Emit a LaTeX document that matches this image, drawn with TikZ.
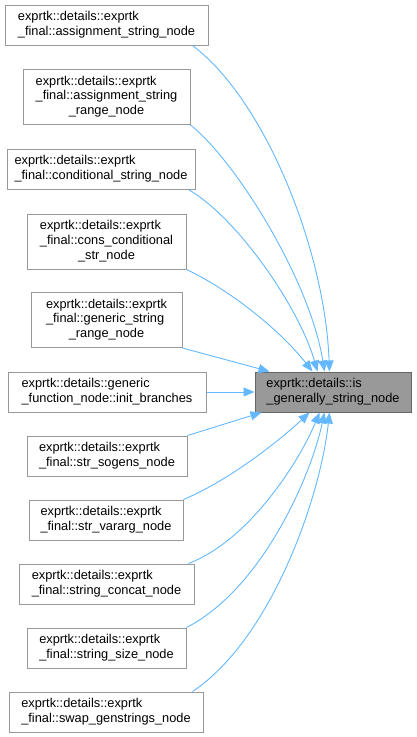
\documentclass[tikz,border=0pt]{standalone}
\usepackage{fontspec}
\setmainfont{Liberation Sans}
\usetikzlibrary{arrows.meta}
\definecolor{edgeblue}{HTML}{63B8FF}
\definecolor{boxgray}{HTML}{999999}
\definecolor{tgtborder}{HTML}{666666}
\newcommand{\twol}[2]{\begin{tabular}{@{}l@{}}#1\\#2\end{tabular}}
\newcommand{\threel}[3]{\begin{tabular}{@{}l@{}}#1\\#2\\\multicolumn{1}{@{}c@{}}{#3}\end{tabular}}
\begin{document}
\begin{tikzpicture}[x=1pt,y=-1pt,
  box/.style={draw=boxgray,line width=1pt,fill=white,inner sep=0pt,
    font=\fontsize{12.8}{14.8}\selectfont,minimum height=40pt},
  tall/.style={minimum height=55pt},
  target/.style={box,draw=tgtborder,fill=boxgray},
  edge/.style={draw=edgeblue,line width=0.9pt,-{Triangle[length=11pt,width=9pt]}}]
\useasboundingbox (0,0) rectangle (416,737);
\node[box,minimum width=203pt] (n1) at (106.5,25) {\twol{exprtk::details::exprtk}{\_final::assignment\_string\_node}};
\node[box,tall,minimum width=167pt] (n2) at (106.5,97) {\threel{exprtk::details::exprtk}{\_final::assignment\_string}{\_range\_node}};
\node[box,minimum width=188pt] (n3) at (101,169) {\twol{exprtk::details::exprtk}{\_final::conditional\_string\_node}};
\node[box,tall,minimum width=159pt] (n4) at (106.5,241.5) {\threel{exprtk::details::exprtk}{\_final::cons\_conditional}{\_str\_node}};
\node[box,tall,minimum width=151pt] (n5) at (106.5,320) {\threel{exprtk::details::exprtk}{\_final::generic\_string}{\_range\_node}};
\node[box,minimum width=198pt] (n6) at (107,392) {\twol{exprtk::details::generic}{\_function\_node::init\_branches}};
\node[box,minimum width=160pt] (n7) at (107,456) {\twol{exprtk::details::exprtk}{\_final::str\_sogens\_node}};
\node[box,minimum width=154pt] (n8) at (106,520) {\twol{exprtk::details::exprtk}{\_final::str\_vararg\_node}};
\node[box,minimum width=175pt] (n9) at (106.5,584) {\twol{exprtk::details::exprtk}{\_final::string\_concat\_node}};
\node[box,minimum width=159pt] (n10) at (106.5,648) {\twol{exprtk::details::exprtk}{\_final::string\_size\_node}};
\node[box,minimum width=194pt] (n11) at (106,712) {\twol{exprtk::details::exprtk}{\_final::swap\_genstrings\_node}};
\node[target,minimum width=156pt] (t) at (333,392) {\twol{exprtk::details::is}{\_generally\_string\_node}};
% edges
\draw[edge] ([xshift=-16pt]n1.south east) .. controls (265,100) and (325,250) .. ([xshift=75pt]t.north west);
\draw[edge] (n2.south east) .. controls (235,160) and (310,280) .. ([xshift=70pt]t.north west);
\draw[edge] ([xshift=-7pt]n3.south east) .. controls (240,220) and (300,310) .. ([xshift=63pt]t.north west);
\draw[edge] (n4.south east) .. controls (230,290) and (280,330) .. ([xshift=58pt]t.north west);
\draw[edge] (n5.south east) -- ([xshift=15pt]t.north west);
\draw[edge] (n6.east) -- (t.west);
\draw[edge] (n7.north east) -- ([xshift=7pt]t.south west);
\draw[edge] (n8.north east) .. controls (230,480) and (280,440) .. ([xshift=55pt]t.south west);
\draw[edge] ([xshift=-6pt]n9.north east) .. controls (250,540) and (300,460) .. ([xshift=65pt]t.south west);
\draw[edge] (n10.north east) .. controls (260,590) and (310,480) .. ([xshift=70pt]t.south west);
\draw[edge] ([xshift=-11pt]n11.north east) .. controls (270,640) and (320,500) .. ([xshift=75pt]t.south west);
\end{tikzpicture}
\end{document}
